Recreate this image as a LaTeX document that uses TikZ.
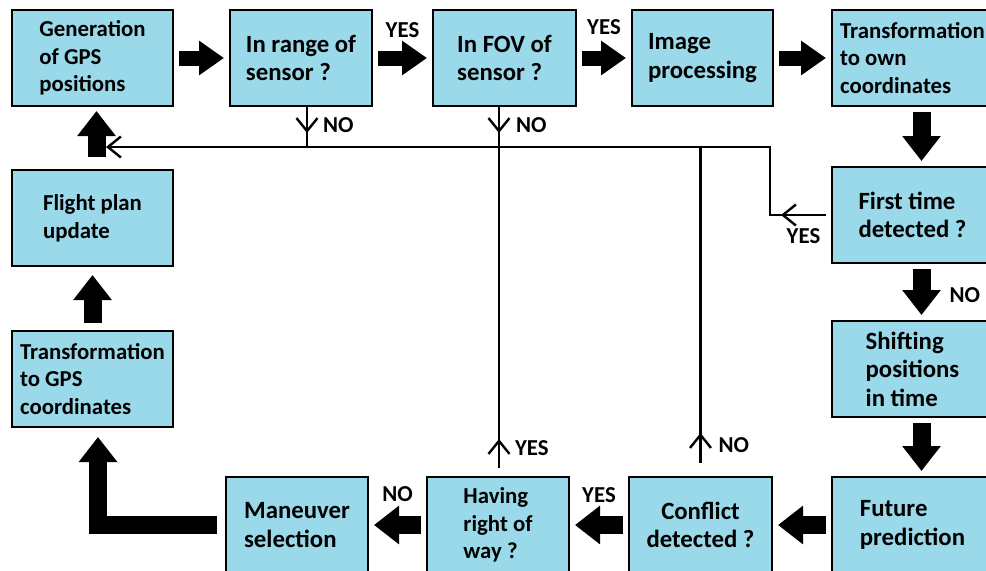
\documentclass[tikz,border=0pt]{standalone}
\usepackage{fontspec}
\setmainfont{Carlito}
\usetikzlibrary{arrows.meta,positioning}
\definecolor{boxblue}{RGB}{153,217,234}

\begin{document}
\begin{tikzpicture}[x=0.5pt,y=-0.5pt,font=\fontsize{11.4}{13.8}\selectfont\bfseries]
\tikzstyle{stage}=[rectangle,draw,line width=1.4pt,fill=boxblue,minimum height=48pt,inner sep=2pt,outer sep=0pt,align=left]
\tikzstyle{wide}=[stage,minimum width=80.5pt]
\tikzstyle{narrow}=[stage,minimum width=71pt]
\tikzstyle{big}=[font=\fontsize{12.4}{14.2}\selectfont\bfseries]
\tikzstyle{flow}=[line width=9pt,line join=miter,-{Triangle[width=18.5pt,length=12.5pt]},shorten <=3pt,shorten >=3pt]
\tikzstyle{topflow}=[flow,line width=7.5pt,-{Triangle[width=16.5pt,length=12.5pt]}]
\tikzstyle{retline}=[line width=1.2pt]
\tikzstyle{rettip}=[retline,-{Straight Barb[length=6.5pt,width=10.5pt]}]
\tikzstyle{lbl}=[inner sep=0pt,outer sep=0pt]
\useasboundingbox (0,0) rectangle (986,570);
% top row
\node[wide] (gen) at (92.5,58) {Generation\\of GPS\\positions};
\node[narrow,big,right=28.5pt of gen] (range) {In range of\\sensor ?};
\node[narrow,big,right=30.5pt of range,minimum width=71.5pt] (fov) {In FOV of\\sensor ?};
\node[narrow,big,right=28pt of fov,minimum width=70.5pt] (img) {Image\\processing};
\node[wide,right=29.5pt of img] (own) {Transformation\\to own\\coordinates};
% right column
\node[wide,big,below=30.5pt of own] (first) {First time\\detected ?};
\node[wide,big,below=29pt of first] (shift) {Shifting\\positions\\in time};
\node[wide,big,below=30pt of shift] (future) {Future\\prediction};
% bottom row
\node[narrow,big,left=30pt of future,minimum width=71.5pt,align=center] (conf) {Conflict\\detected ?};
\node[narrow,left=30pt of conf] (hav) {Having\\right of\\way ?};
\node[narrow,big,left=29.5pt of hav] (man) {Maneuver\\selection};
% left column
\node[wide,below=32pt of gen] (flight) {Flight plan\\update};
\node[wide,below=32.5pt of flight] (tgps) {Transformation\\to GPS\\coordinates};

% main flow
\draw[topflow] (gen) -- (range);
\draw[topflow] (range) -- node[lbl,above=10pt]{YES} (fov);
\draw[topflow] (fov) -- node[lbl,above=11.5pt]{YES} (img);
\draw[topflow] (img) -- (own);
\draw[flow] ([xshift=4.5pt]own.south) -- ([xshift=4.5pt]first.north);
\draw[flow] ([xshift=4.5pt]first.south) -- node[lbl,pos=0.55,right=14pt]{NO} ([xshift=4.5pt]shift.north);
\draw[flow] ([xshift=4.5pt]shift.south) -- ([xshift=4.5pt]future.north);
\draw[flow] (future) -- (conf);
\draw[flow] (conf) -- node[lbl,above=11pt]{YES} (hav);
\draw[flow] (hav) -- node[lbl,above=11.5pt]{NO} (man);
\draw[flow,shorten <=4.5pt,shorten >=5pt] (man.west) -| ([xshift=2.75pt]tgps.south);
\draw[flow,shorten <=4pt,shorten >=4.5pt] (tgps) -- (flight);
\draw[flow,shorten <=6.5pt,shorten >=2.5pt] ([xshift=2pt]flight.north) -- ([xshift=2pt]gen.south);

% return lines
\coordinate (busL) at (106,147);
\coordinate (bend) at (770,0);
\coordinate (drop) at ([xshift=-2.75pt]fov.south);
\draw[rettip] ([xshift=-3pt]first.west) -- (first.west -| bend) |- (busL);
\draw[rettip] ([xshift=-3pt]first.west) -- ++(-45,0) node[lbl,midway,below=7pt]{YES};
\draw[retline] ([xshift=3pt]range.south) -- ([xshift=3pt]range.south |- busL);
\draw[rettip] ([xshift=3pt]range.south) -- ++(0,27) node[lbl,pos=0.7,right=8pt]{NO};
\draw[retline,shorten >=4.5pt] (drop) -- (drop |- hav.north);
\draw[rettip] (drop) -- ++(0,27) node[lbl,pos=0.7,right=8.5pt]{NO};
\draw[rettip] (drop |- hav.north) ++(0,-9) -- ++(0,-29) node[lbl,pos=0.7,right=8pt]{YES};
\draw[retline] (conf.north) ++(0,-14) -- (conf.north |- busL);
\draw[rettip] (conf.north) ++(0,-14) -- ++(0,-30) node[lbl,pos=0.6,right=9pt]{NO};
\end{tikzpicture}
\end{document}
